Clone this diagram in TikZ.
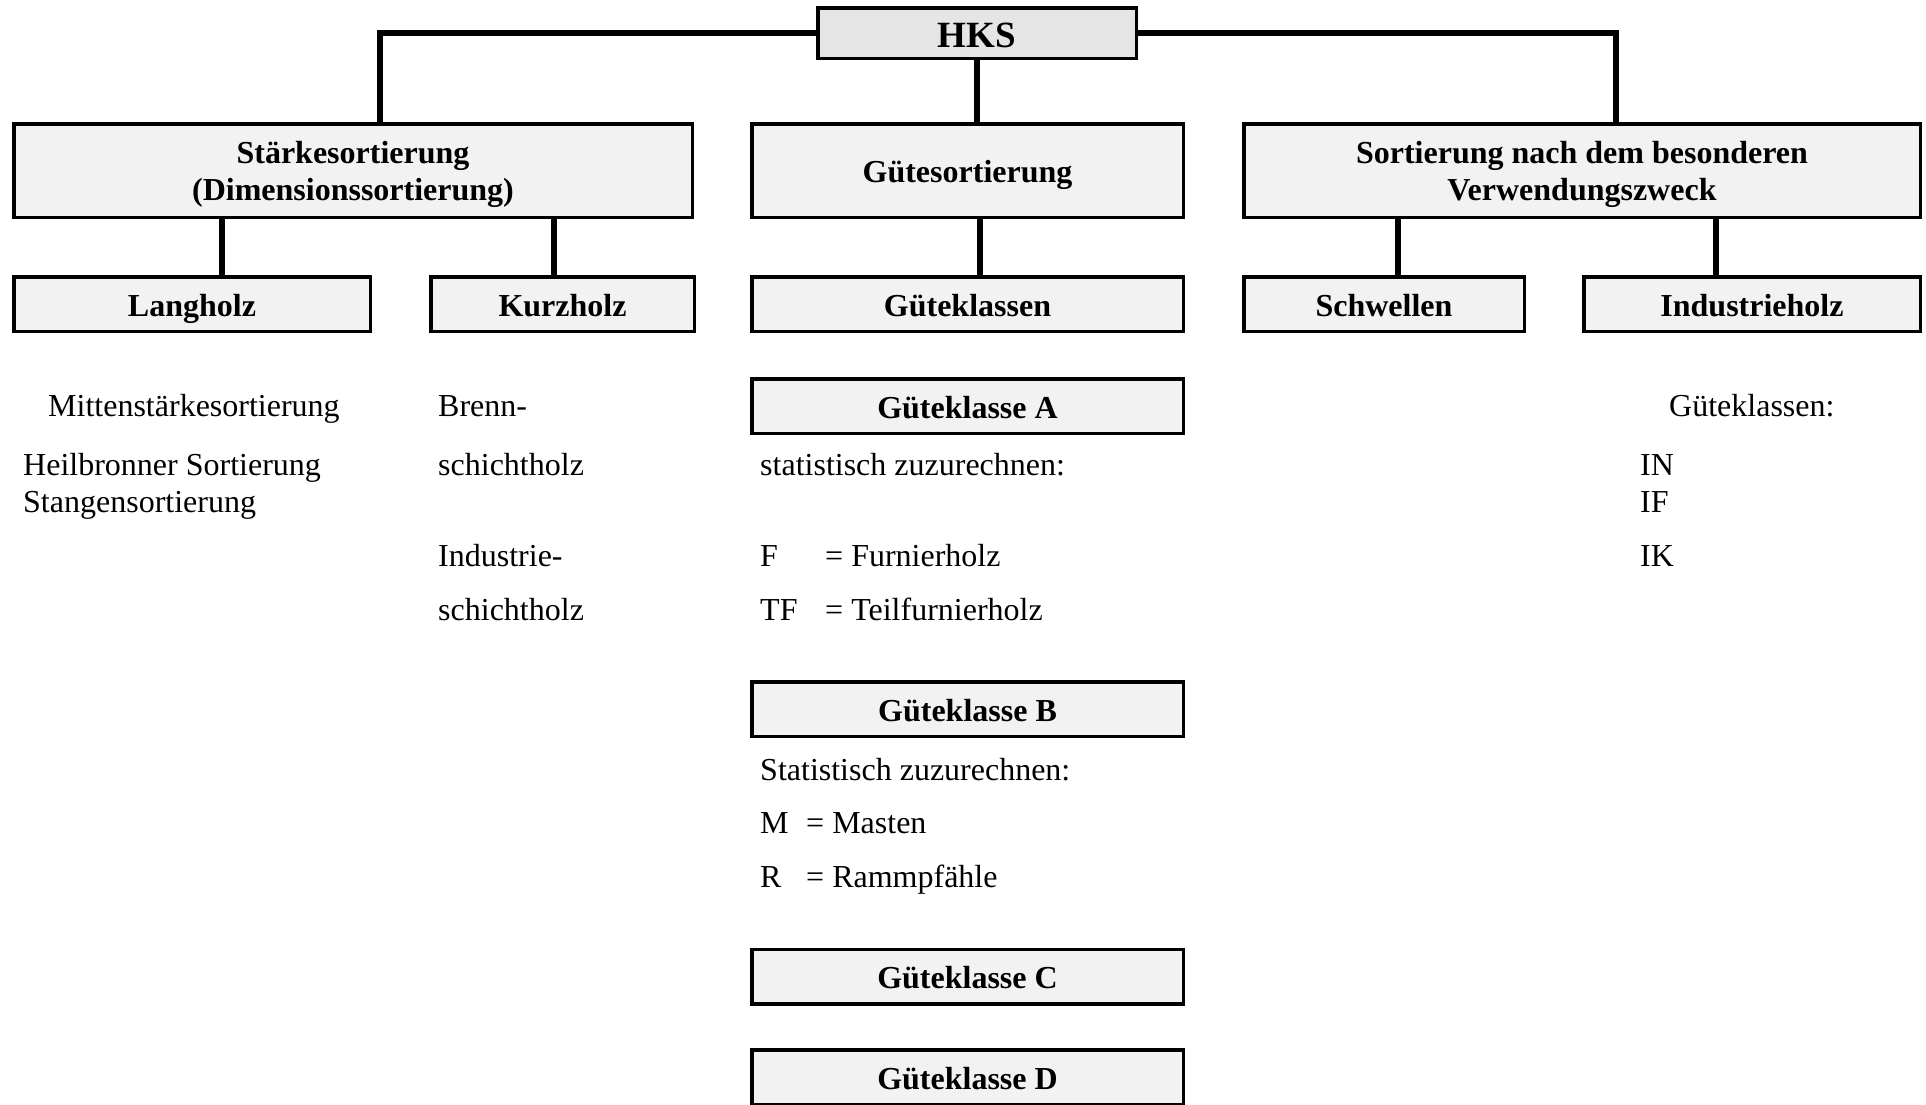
\documentclass[tikz,border=0pt]{standalone}
\usepackage{fontspec}
\setmainfont{Liberation Serif}
\usetikzlibrary{calc}

\begin{document}
\begin{tikzpicture}[x=1pt,y=-1pt]
\tikzstyle{every node}=[font=\fontsize{32}{37}\selectfont]
\tikzstyle{box}=[draw,line width=3.5pt,fill=black!5,align=center,inner sep=0pt,text height=31pt,text depth=7pt,font=\fontsize{32}{37}\selectfont\bfseries]
\tikzstyle{twoline}=[text height=66pt,text depth=7pt]
\tikzstyle{txt}=[anchor=base west,inner sep=0pt]
\tikzstyle{conn}=[line width=6pt]
\useasboundingbox (0,0) rectangle (1926,1104);
\node[box,fill=black!10,minimum width=318.5,minimum height=50.5,text height=36pt,text depth=8pt,font=\fontsize{37}{40}\selectfont\bfseries] (hks) at (977,33) {HKS};
\node[box,twoline,minimum width=678.5,minimum height=93.5] (staerke) at (353,170.5) {St\"arkesortierung\\(Dimensionssortierung)};
\node[box,minimum width=431.5,minimum height=93.5] (guete) at (967.5,170.5) {G\"utesortierung};
\node[box,twoline,minimum width=676.5,minimum height=93.5] (sortierung) at (1582,170.5) {Sortierung nach dem besonderen\\Verwendungszweck};
\node[box,minimum width=356.5,minimum height=54.5] (langholz) at (192,304) {Langholz};
\node[box,minimum width=263.5,minimum height=54.5] (kurzholz) at (562.5,304) {Kurzholz};
\node[box,minimum width=431.5,minimum height=54.5] (gueteklassen) at (967.5,304) {G\"uteklassen};
\node[box,minimum width=280.5,minimum height=54.5] (schwellen) at (1384,304) {Schwellen};
\node[box,minimum width=336.5,minimum height=54.5] (industrieholz) at (1752,304) {Industrieholz};
\node[box,minimum width=431.5,minimum height=54.5] (klasseA) at (967.5,406) {G\"uteklasse A};
\node[box,minimum width=431.5,minimum height=54.5] (klasseB) at (967.5,709) {G\"uteklasse B};
\node[box,minimum width=431.5,minimum height=54.5] (klasseC) at (967.5,976.5) {G\"uteklasse C};
\node[box,minimum width=431.5,minimum height=54.5] (klasseD) at (967.5,1077) {G\"uteklasse D};
\draw[conn] (hks.west) -| ($(staerke.north)+(27,0)$);
\draw[conn] (hks.east) -| ($(sortierung.north)+(34,0)$);
\draw[conn] (hks.south) -- (guete.north -| hks.south);
\draw[conn] ($(staerke.south)+(-131,0)$) -- ($(langholz.north)+(30,0)$);
\draw[conn] ($(staerke.south)+(201,0)$) -- ($(kurzholz.north)+(-8.5,0)$);
\draw[conn] ($(guete.south)+(12.5,0)$) -- ($(gueteklassen.north)+(12.5,0)$);
\draw[conn] ($(sortierung.south)+(-184,0)$) -- ($(schwellen.north)+(14,0)$);
\draw[conn] ($(sortierung.south)+(134,0)$) -- ($(industrieholz.north)+(-36,0)$);
\node[txt] (mitten) at (48,416) {Mittenst\"arkesortierung};
\node[txt] (heilbronn) at (23,475) {Heilbronner Sortierung};
\node[txt] (stangen) at (23,512) {Stangensortierung};
\node[txt] (brenn) at (438,416) {Brenn-};
\node[txt] (brennschicht) at (438,475) {schichtholz};
\node[txt] (industrie) at (438,566) {Industrie-};
\node[txt] (industrieschicht) at (438,620) {schichtholz};
\node[txt] (statA) at (760,475) {statistisch zuzurechnen:};
\node[txt] (f) at (760,566) {F};
\node[txt] (furnier) at (825,566) {= Furnierholz};
\node[txt] (tf) at (760,620) {TF};
\node[txt] (teilfurnier) at (825,620) {= Teilfurnierholz};
\node[txt] (statB) at (760,780) {Statistisch zuzurechnen:};
\node[txt] (m) at (760,833) {M};
\node[txt] (masten) at (806,833) {= Masten};
\node[txt] (r) at (760,887) {R};
\node[txt] (ramm) at (806,887) {= Rammpf\"ahle};
\node[txt] (klassen) at (1669,416) {G\"uteklassen:};
\node[txt] (in) at (1640,475) {IN};
\node[txt] (if) at (1640,512) {IF};
\node[txt] (ik) at (1640,566) {IK};
\end{tikzpicture}
\end{document}
